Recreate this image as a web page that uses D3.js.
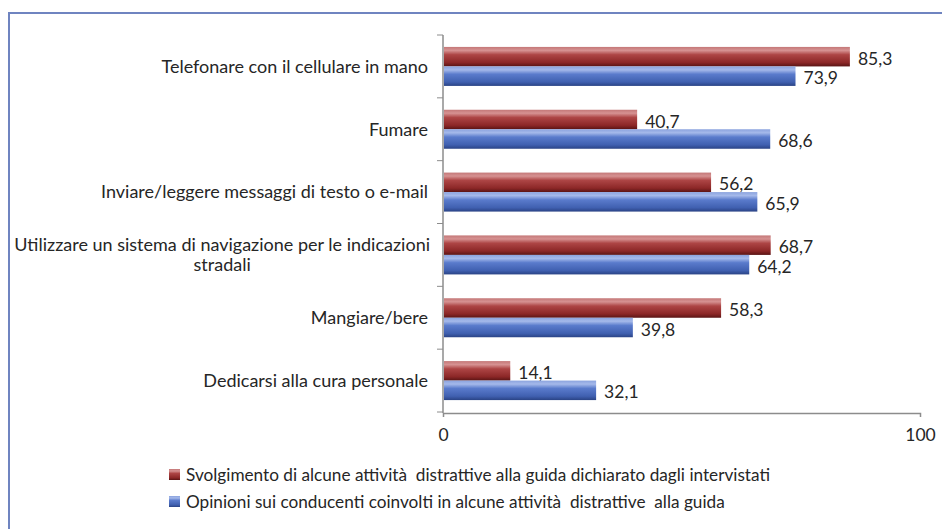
<!DOCTYPE html>
<html>
<head>
<meta charset="utf-8">
<script src="https://cdn.jsdelivr.net/npm/d3@7"></script>
<style>
  body { margin: 0; background: #fff; }
  text { font-family: Lato, "Open Sans", sans-serif; fill: #262626; white-space: pre; }
</style>
</head>
<body>
<div id="figure"></div>
<script>
// chart data
const categories = [
  "Telefonare con il cellulare in mano",
  "Fumare",
  "Inviare/leggere messaggi di testo o e-mail",
  "Utilizzare un sistema di navigazione per le indicazioni\nstradali",
  "Mangiare/bere",
  "Dedicarsi alla cura personale"
];
const svolgimento = [85.3, 40.7, 56.2, 68.7, 58.3, 14.1];
const opinioni = [73.9, 68.6, 65.9, 64.2, 39.8, 32.1];
const seriesNames = [
  "Svolgimento di alcune attività  distrattive alla guida dichiarato dagli intervistati",
  "Opinioni sui conducenti coinvolti in alcune attività  distrattive  alla guida"
];
const xTicks = [0, 100];

const W = 942, H = 529;
const margin = { top: 35, left: 443, right: 22, bottom: 117 };
const fs = 17.5;

const it = d3.formatLocale({ decimal: ",", thousands: ".", grouping: [3], currency: ["", "€"] });
const fmt = it.format(".1f");

const svg = d3.select("#figure").append("svg")
  .attr("width", W).attr("height", H);

const defs = svg.append("defs");
function grad(id, stops) {
  const g = defs.append("linearGradient").attr("id", id)
    .attr("x1", 0).attr("y1", 0).attr("x2", 0).attr("y2", 1);
  stops.forEach(s => g.append("stop").attr("offset", s[0]).attr("stop-color", s[1]));
}
grad("gRed", [[0, "#c47878"], [0.18, "#d69292"], [0.4, "#ad4545"], [0.8, "#8c2727"], [1, "#5a1414"]]);
grad("gBlue", [[0, "#8ba3de"], [0.18, "#a5b9ea"], [0.4, "#5a7bcc"], [0.8, "#4060b0"], [1, "#2a4385"]]);

// outer frame
svg.append("rect")
  .attr("x", 9).attr("y", 13).attr("width", 1000).attr("height", 600)
  .attr("fill", "none").attr("stroke", "#6f84c0").attr("stroke-width", 2);

const x = d3.scaleLinear().domain([0, 100]).range([margin.left, W - margin.right]);
const y = d3.scaleBand().domain(categories).range([margin.top, H - margin.bottom]);
const step = y.step();
const inner = d3.scaleBand().domain([0, 1])
  .range([(step - 39) / 2, (step + 39) / 2]);

// x axis
const xAxis = svg.append("g")
  .attr("transform", `translate(0,${H - margin.bottom + 1})`)
  .call(d3.axisBottom(x).tickValues(xTicks).tickSize(4).tickPadding(12).tickFormat(d3.format("d")));
xAxis.select(".domain").attr("stroke", "#8c8c8c").attr("stroke-width", 1.5);
xAxis.selectAll(".tick line").attr("stroke", "#8c8c8c");
xAxis.selectAll(".tick text").attr("font-size", fs).style("font-family", "Lato, sans-serif").attr("fill", "#262626");

// y axis line and ticks
const yTicks = d3.range(categories.length + 1).map(i => margin.top + i * step);
svg.append("line")
  .attr("x1", margin.left).attr("x2", margin.left)
  .attr("y1", margin.top).attr("y2", H - margin.bottom + 1)
  .attr("stroke", "#8c8c8c").attr("stroke-width", 1.5);
svg.selectAll(".ytick").data(yTicks).join("line")
  .attr("x1", margin.left - 6).attr("x2", margin.left)
  .attr("y1", d => d).attr("y2", d => d)
  .attr("stroke", "#8c8c8c");

// category labels
const cfs = 18;
categories.forEach(c => {
  const lines = c.split("\n");
  const cy = y(c) + step / 2;
  const g = svg.append("g");
  if (lines.length === 1) {
    g.append("text").attr("x", 428).attr("y", cy).attr("dy", "0.35em")
      .attr("text-anchor", "end").attr("font-size", cfs).text(lines[0]);
  } else {
    const t0 = g.append("text").attr("y", cy - 10).attr("dy", "0.35em")
      .attr("font-size", cfs).attr("text-anchor", "middle").text(lines[0]);
    const w = t0.node().getComputedTextLength();
    t0.attr("x", 430 - w / 2);
    g.append("text").attr("x", 430 - w / 2).attr("y", cy + 10).attr("dy", "0.35em")
      .attr("font-size", cfs).attr("text-anchor", "middle").text(lines[1]);
  }
});

// bars
const series = [
  { values: svolgimento, fill: "url(#gRed)" },
  { values: opinioni, fill: "url(#gBlue)" }
];
series.forEach((s, si) => {
  const g = svg.append("g");
  g.selectAll("rect").data(s.values).join("rect")
    .attr("x", x(0) + 1)
    .attr("y", (d, i) => y(categories[i]) + inner(si))
    .attr("width", d => x(d) - x(0) - 1)
    .attr("height", inner.bandwidth())
    .attr("fill", s.fill);
  g.selectAll("text").data(s.values).join("text")
    .attr("x", d => x(d) + 8)
    .attr("y", (d, i) => y(categories[i]) + inner(si) + inner.bandwidth() / 2 + 2)
    .attr("dy", "0.35em")
    .attr("font-size", fs)
    .text(d => fmt(d));
});

// legend
const legend = svg.append("g");
seriesNames.forEach((name, i) => {
  const ly = 475 + i * 27;
  legend.append("rect").attr("x", 169).attr("y", ly - 6).attr("width", 11).attr("height", 11)
    .attr("fill", series[i].fill);
  legend.append("text").attr("x", 186).attr("y", ly).attr("dy", "0.35em")
    .attr("font-size", 17.2).text(name);
});
</script>
</body>
</html>
